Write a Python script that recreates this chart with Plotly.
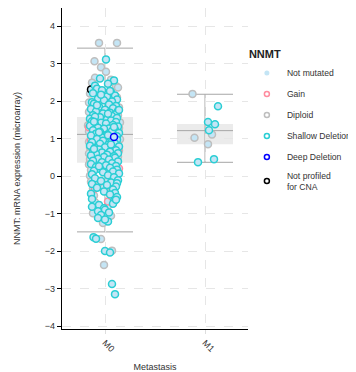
import plotly.graph_objects as go

categories = ["M0", "M1"]

# Box statistics (per category)
box_q1 = [0.355, 0.85]
box_median = [1.11, 1.21]
box_q3 = [1.575, 1.39]
whisker_low = [-1.49, 0.365]
whisker_high = [3.41, 2.18]

# M0 - Shallow Deletion
m0_shallow_y = [
    3.11, 2.60, 2.55, 2.46, 2.41, 2.33, 2.29, 2.24, 2.21, 2.15, 2.12, 2.06, 2.04, 2.02, 1.99, 1.97, 2.17, 2.27,
    1.93, 1.91, 1.87, 1.85, 1.81, 1.79, 1.77, 1.74, 1.72, 1.69, 1.67, 1.64, 1.62, 1.60, 1.57, 1.55, 1.53, 1.51, 1.89, 1.76, 1.66, 1.58,
    1.48, 1.46, 1.44, 1.42, 1.40, 1.38, 1.36, 1.34, 1.32, 1.29, 1.27, 1.26, 1.24, 1.22, 1.20, 1.18, 1.15, 1.13, 1.10, 1.08, 1.06, 1.03, 1.01, 1.45, 1.31, 1.17, 1.09,
    0.99, 0.97, 0.94, 0.92, 0.90, 0.87, 0.86, 0.83, 0.81, 0.79, 0.77, 0.75, 0.73, 0.71, 0.69, 0.66, 0.65, 0.63, 0.61, 0.59, 0.57, 0.55, 0.53, 0.51, 0.84, 0.72,
    0.49, 0.46, 0.44, 0.41, 0.39, 0.37, 0.34, 0.32, 0.29, 0.27, 0.24, 0.22, 0.19, 0.17, 0.14, 0.12, 0.10, 0.07, 0.05, 0.02, 0.26,
    -0.03, -0.06, -0.11, -0.13, -0.17, -0.19, -0.21, -0.24, -0.28, -0.31, -0.36, -0.41, -0.45, -0.47, -0.49, -0.56,
    -0.61, -0.67, -0.74, -0.77, -0.82, -0.86, -0.90, -0.94, -0.97, -0.63,
    -1.04, -1.12, -1.21, -1.16,
    -1.63, -1.67, -2.00, -2.04, -2.88, -3.15,
]
m0_shallow_jitter = [
    0.01, -0.05, 0.09, 0.03, -0.10, -0.08, -0.03, 0.06, -0.12, 0.10, 0.02, -0.07, 0.12, -0.01, 0.07, -0.13, -0.04, 0.05,
    -0.11, 0.04, 0.11, -0.06, 0.08, -0.14, 0.00, 0.13, -0.09, 0.05, -0.02, 0.10, -0.12, 0.07, -0.05, 0.12, -0.15, 0.02, -0.08, 0.14, 0.03, -0.10,
    0.06, -0.13, 0.11, -0.04, 0.01, -0.10, 0.08, -0.15, 0.13, -0.07, 0.04, -0.01, 0.10, -0.12, 0.07, -0.05, 0.14, -0.09, 0.02, -0.14, 0.12, -0.03, 0.06, -0.11, 0.09, -0.06, 0.03,
    -0.08, 0.12, -0.02, 0.07, -0.13, 0.10, -0.05, 0.03, -0.15, 0.14, 0.00, -0.10, 0.08, -0.06, 0.11, -0.12, 0.05, -0.03, 0.13, -0.09, 0.02, -0.14, 0.09, -0.01, 0.06, -0.11,
    0.10, -0.07, 0.04, -0.12, 0.13, -0.03, 0.07, -0.14, 0.01, 0.11, -0.09, 0.05, -0.05, 0.12, -0.11, 0.08, -0.02, 0.14, -0.13, 0.03, -0.06,
    0.09, -0.10, 0.13, -0.04, 0.06, 0.12, -0.13, 0.02, 0.11, -0.08, 0.08, -0.01, 0.10, -0.14, 0.05, 0.12,
    -0.13, 0.09, 0.08, -0.06, -0.13, -0.01, 0.00, -0.07, 0.04, 0.11,
    -0.04, -0.07, 0.03, 0.00,
    -0.115, -0.09, 0.00, 0.05, 0.07, 0.10,
]

# M0 - Diploid
m0_diploid_y = [
    3.55, 3.55, 3.06, 2.90, 2.78, 2.62, 2.57, 2.49, 2.40, 2.36, 2.20, 2.10, 1.96, 1.83, 1.71, 1.62, 1.50, 1.43, 1.35, 1.28,
    1.19, 1.12, 1.05, 0.98, 0.91, 0.82, 0.76, 0.68, 0.60, 0.52, 0.45, 0.38, 0.31, 0.23, 0.16, 0.09, 0.01, -0.08, -0.15, -0.25,
    -0.33, -0.38, -0.52, -0.58, -0.70, -0.79, -0.88, -0.99, -1.06, -1.25, -1.68, -1.99, -2.37, 1.55, 1.02, 0.55, 0.12, -0.42,
    2.05, 1.70, 0.88, -0.12, -0.30, 0.70, 1.25,
]
m0_diploid_jitter = [
    -0.06, 0.12, -0.105, -0.04, 0.01, -0.10, 0.06, -0.13, 0.11, 0.13, -0.15, 0.12, -0.16, 0.14, -0.16, 0.13, -0.15, 0.15, -0.17, 0.14,
    -0.16, 0.13, -0.14, 0.15, -0.16, 0.12, -0.15, 0.14, -0.16, 0.13, -0.15, 0.12, -0.16, 0.11, -0.14, 0.13, -0.15, 0.10, -0.14, -0.06,
    -0.12, 0.05, -0.11, 0.08, -0.10, 0.03, -0.09, -0.12, 0.06, -0.02, -0.04, 0.07, -0.01, 0.02, -0.03, 0.04, -0.02, 0.01,
    -0.02, 0.05, -0.06, 0.03, -0.01, 0.00, 0.07,
]

# M0 - Gain
m0_gain_y = [0.62, -0.68, 0.65, 1.92, -0.33, -0.55, 1.30, 0.20, 0.95]
m0_gain_jitter = [0.11, 0.03, 0.13, 0.08, -0.10, 0.07, -0.16, 0.14, -0.14]

# M0 - Deep Deletion
m0_deep_y = [1.04]
m0_deep_jitter = [0.09]

# M0 - Not profiled for CNA
m0_notprof_y = [2.31, 0.37]
m0_notprof_jitter = [-0.14, 0.11]

# M1 - Diploid
m1_diploid_y = [2.19, 1.11, 1.02, 0.85]
m1_diploid_jitter = [-0.125, 0.07, -0.105, 0.03]

# M1 - Shallow Deletion
m1_shallow_y = [1.86, 1.44, 1.38, 1.22, 0.37, 0.45]
m1_shallow_jitter = [0.13, 0.03, 0.10, 0.04, -0.07, 0.09]

legend_labels = ["Not mutated", "Gain", "Diploid", "Shallow Deletion", "Deep Deletion", "Not profiled<br>for CNA"]

FILL = "#c4e5f5"
C_DIPLOID = "#bebebe"
C_GAIN = "#ff8c9f"
C_SHALLOW = "#2aced4"
C_DEEP = "#0000ff"
C_NOTPROF = "#000000"
FONT = "Liberation Sans, Arial, sans-serif"

fig = go.Figure()

# Box shapes built from the stats arrays
HW = 0.28
for i in range(len(categories)):
    fig.add_shape(type="rect", xref="x", yref="y", x0=i - HW, x1=i + HW, y0=box_q1[i], y1=box_q3[i],
                  fillcolor="#ebebeb", line=dict(width=0), layer="below")
    fig.add_shape(type="line", xref="x", yref="y", x0=i, x1=i, y0=whisker_low[i], y1=whisker_high[i],
                  line=dict(color="#a6a6a6", width=1), layer="below")
    for v in (whisker_low[i], box_median[i], whisker_high[i]):
        fig.add_shape(type="line", xref="x", yref="y", x0=i - HW, x1=i + HW, y0=v, y1=v,
                      line=dict(color="#a6a6a6", width=1), layer="below")


def pts(cat_index, jit, ys, color):
    return go.Scatter(
        x=[cat_index + j for j in jit], y=ys, mode="markers", showlegend=False, hoverinfo="y",
        marker=dict(size=7, color=FILL, line=dict(color=color, width=1.5)),
    )


fig.add_trace(pts(0, m0_diploid_jitter, m0_diploid_y, C_DIPLOID))
fig.add_trace(pts(1, m1_diploid_jitter, m1_diploid_y, C_DIPLOID))
fig.add_trace(pts(0, m0_gain_jitter, m0_gain_y, C_GAIN))
fig.add_trace(pts(0, m0_notprof_jitter, m0_notprof_y, C_NOTPROF))
fig.add_trace(pts(0, m0_shallow_jitter, m0_shallow_y, C_SHALLOW))
fig.add_trace(pts(1, m1_shallow_jitter, m1_shallow_y, C_SHALLOW))
fig.add_trace(pts(0, m0_deep_jitter, m0_deep_y, C_DEEP))

# Legend entries
leg_styles = [
    dict(size=5, color=FILL, line=dict(width=0)),
    dict(size=5, color="rgba(255,255,255,0)", line=dict(color=C_GAIN, width=1.5)),
    dict(size=5, color="rgba(255,255,255,0)", line=dict(color=C_DIPLOID, width=1.5)),
    dict(size=5, color="rgba(255,255,255,0)", line=dict(color=C_SHALLOW, width=1.5)),
    dict(size=5, color="rgba(255,255,255,0)", line=dict(color=C_DEEP, width=1.5)),
    dict(size=5, color="rgba(255,255,255,0)", line=dict(color=C_NOTPROF, width=1.5)),
]
for k, (lab, st) in enumerate(zip(legend_labels, leg_styles)):
    fig.add_trace(go.Scatter(x=[None], y=[None], mode="markers", name=lab, marker=st,
                             legendgroup=f"g{k}", showlegend=True))

# The page body adds an 8px offset, so the figure is 8px smaller on each axis
fig.update_layout(
    width=348, height=364,
    margin=dict(l=54, r=108, t=0, b=43, autoexpand=False),
    plot_bgcolor="white", paper_bgcolor="white",
    font=dict(family=FONT, size=9, color="#333333"),
    showlegend=True,
    legend=dict(
        title=dict(text="<b>NNMT</b>", font=dict(size=11, color="#222222")),
        x=0.994, xanchor="left", y=0.8875, yanchor="top",
        font=dict(size=8.6, color="#333333"),
        tracegroupgap=2, itemwidth=30,
        bgcolor="rgba(0,0,0,0)",
    ),
    xaxis=dict(
        range=[-0.43, 1.43], tickvals=[0, 1], ticktext=categories, tickangle=45,
        showgrid=True, gridcolor="#e6e6e6", griddash="dash", gridwidth=1,
        zeroline=False, showline=True, linecolor="black", linewidth=1.3,
        ticks="outside", ticklen=4, tickcolor="#dddddd",
        tickfont=dict(size=9, color="#333333"),
        title=dict(text="Metastasis", font=dict(size=9, color="#333333"), standoff=23),
        automargin=False,
    ),
    yaxis=dict(
        range=[-4.08, 4.48], tickvals=[-4, -3, -2, -1, 0, 1, 2, 3, 4],
        showgrid=True, gridcolor="#e6e6e6", griddash="dash", gridwidth=1,
        zeroline=False, showline=True, linecolor="black", linewidth=1.3,
        ticks="outside", ticklen=4, tickcolor="black",
        tickfont=dict(size=9, color="#333333"),
        title=dict(text="NNMT: mRNA expression (microarray)", font=dict(size=9, color="#333333"), standoff=22),
        automargin=False,
    ),
)

fig.write_html("out.html")
